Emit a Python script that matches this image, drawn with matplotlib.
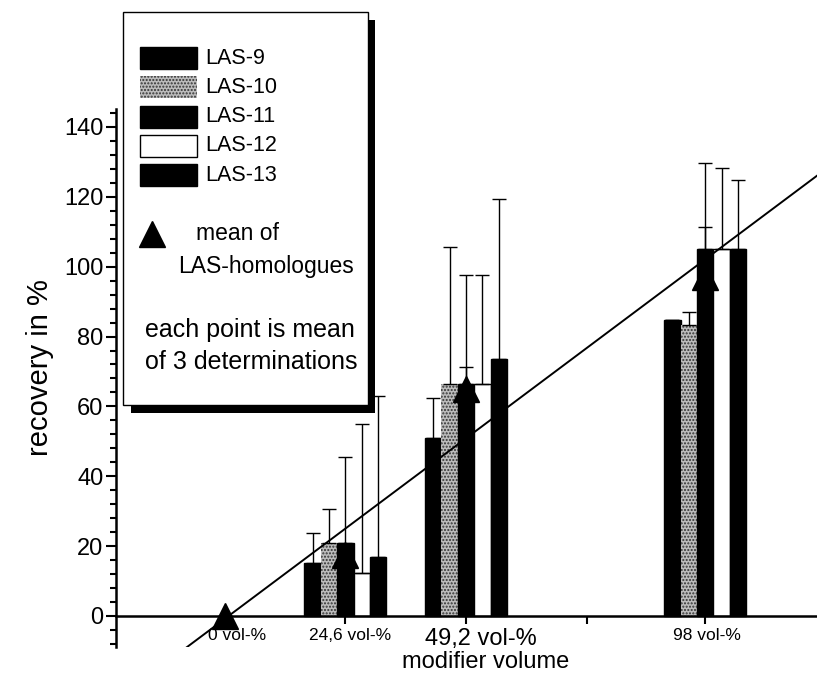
import matplotlib.pyplot as plt
from matplotlib.patches import Rectangle
import numpy as np

plt.rcParams['font.family'] = ['Liberation Sans', 'DejaVu Sans']

# modifier volume of the groups (vol-%)
volumes = [24.6, 49.2, 98.0]
series = ['LAS-9', 'LAS-10', 'LAS-11', 'LAS-12', 'LAS-13']

# recovery in % and upper error per homologue
las9 = [15.2, 51.0, 84.6]
las9_err = [8.6, 11.5, 0.0]
las10 = [20.9, 66.5, 83.4]
las10_err = [9.8, 39.1, 3.5]
las11 = [21.0, 66.5, 105.0]
las11_err = [24.6, 31.0, 24.7]
las12 = [12.3, 66.5, 105.0]
las12_err = [42.7, 31.2, 23.3]
las13 = [17.0, 73.5, 105.0]
las13_err = [46.0, 46.0, 19.7]

# mean of LAS-homologues
mean_x = [0.0, 24.6, 49.2, 98.0]
mean_y = [0.0, 17.5, 65.0, 97.0]
mean_err = [0.0, 0.0, 6.4, 14.5]

# regression line
slope = 1.05
intercept = -0.8

tick_pos = [0, 24.6, 49.2, 73.8, 98]
tick_lab = ['0 vol-%', '24,6 vol-%', '49,2 vol-%', '', '98 vol-%']
lab_size = [12.5, 12.5, 17, 12.5, 12.5]
lab_shift = [9, 3, 11, 0, 1]   # points, labels sit a bit off their ticks

values = [las9, las10, las11, las12, las13]
errors = [las9_err, las10_err, las11_err, las12_err, las13_err]
speckle = '#bcbcbc'
faces = ['black', speckle, 'black', 'white', 'black']

W, H = 817, 683
fig = plt.figure(figsize=(W / 100, H / 100), dpi=100)
ax = fig.add_axes([116 / W, 0.0521, 1 - 116 / W, 0.7876])

bw = 3.35
x = np.array(volumes)
for i in range(5):
    xi = x + (i - 2) * bw
    if faces[i] == speckle:
        ax.bar(xi, values[i], bw, color=speckle, edgecolor='#333333',
               hatch='.....', linewidth=0, zorder=2)
    else:
        ax.bar(xi, values[i], bw, color=faces[i], edgecolor='black',
               linewidth=1, zorder=2)
    err = np.array(errors[i])
    ax.errorbar(xi, values[i], yerr=[np.zeros(3), err], fmt='none',
                ecolor='black', elinewidth=1, capsize=5, capthick=1, zorder=3)

ax.errorbar(mean_x, mean_y, yerr=[np.zeros(4), mean_err], fmt='none',
            ecolor='black', elinewidth=1, capsize=5, capthick=1, zorder=3)
ax.plot(mean_x, mean_y, '^', color='black', ms=19, zorder=4)

xl = np.array([-25, 125])
ax.plot(xl, slope * xl + intercept, color='black', lw=1.4, zorder=5)

ax.set_xlim(-22.2, 120.8)
ax.set_ylim(-9, 145)
ax.spines['top'].set_visible(False)
ax.spines['right'].set_visible(False)
ax.spines['bottom'].set_position(('data', 0))
ax.spines['left'].set_linewidth(1.8)
ax.spines['bottom'].set_linewidth(1.8)

ax.set_yticks(range(0, 141, 20))
ax.set_yticks(range(-8, 145, 4), minor=True)
ax.tick_params(axis='y', which='major', length=7, width=1.5, labelsize=17, pad=2)
ax.tick_params(axis='y', which='minor', length=4, width=1.5)
ax.set_xticks(tick_pos)
ax.set_xticklabels([])
ax.tick_params(axis='x', length=6, width=1.5)
for p, t, s, d in zip(tick_pos, tick_lab, lab_size, lab_shift):
    ax.annotate(t, xy=(p, 0), xytext=(d, -9), textcoords='offset points',
                ha='center', va='top', fontsize=s)

fig.text(486 / W, 1 - 662 / H, 'modifier volume', ha='center', va='center', fontsize=17)
fig.text(40 / W, 1 - 368 / H, 'recovery in %', ha='center', va='center',
         rotation=90, fontsize=21)

# legend box drawn in pixel coordinates
lg = fig.add_axes([0, 0, 1, 1], zorder=10)
lg.set_xlim(0, W)
lg.set_ylim(H, 0)
lg.axis('off')
lg.patch.set_alpha(0)
lg.add_patch(Rectangle((131, 20), 244, 393, facecolor='black'))
lg.add_patch(Rectangle((123, 12), 245, 393, facecolor='white', edgecolor='black', lw=1))
for i, name in enumerate(series):
    y0 = 47 + i * 29.3
    if faces[i] == speckle:
        lg.add_patch(Rectangle((140, y0), 57, 22, facecolor=speckle,
                               edgecolor='#333333', hatch='.....', lw=0))
    else:
        lg.add_patch(Rectangle((140, y0), 57, 22, facecolor=faces[i],
                               edgecolor='black', lw=1))
    lg.text(205, y0 + 11, name, va='center', ha='left', fontsize=15.5)
lg.plot([152], [234], '^', color='black', ms=19)
lg.text(196, 233, 'mean of', va='center', ha='left', fontsize=16.5)
lg.text(178, 267, 'LAS-homologues', va='center', ha='left', fontsize=16.5)
lg.text(145, 330, 'each point is mean', va='center', ha='left', fontsize=18)
lg.text(145, 362, 'of 3 determinations', va='center', ha='left', fontsize=18)

fig.savefig('out.png', dpi=100)
